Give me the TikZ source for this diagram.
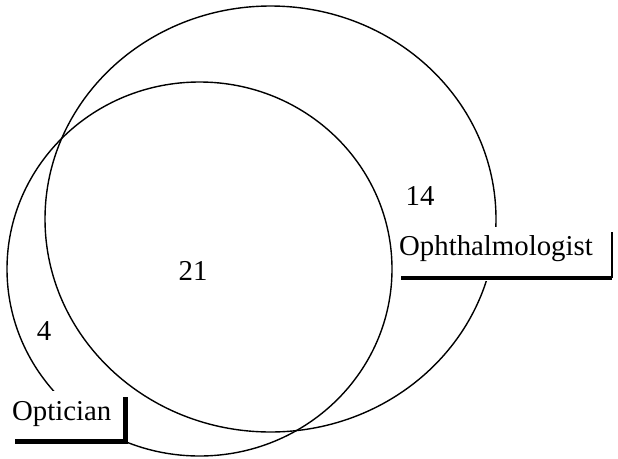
\documentclass[tikz,border=0pt]{standalone}
\usepackage{fontspec}
\setmainfont{Liberation Serif}
\begin{document}
\begin{tikzpicture}[x=1pt,y=-1pt,
  setline/.style={line width=1.4pt},
  labeltext/.style={inner sep=0pt,font=\fontsize{28.8}{30}\selectfont},
  countlabel/.style={inner sep=0pt,anchor=base,font=\fontsize{28.8}{30}\selectfont},
  labelcover/.style={fill=white,draw=none},
  thickrule/.style={line width=4.5pt},
  thinrule/.style={line width=1.5pt}]
\useasboundingbox (0,0) rectangle (618,458);

% the two sets
\draw[setline] (270.5,219) ellipse [x radius=225.5, y radius=213];
\draw[setline] (199.5,269) ellipse [x radius=192.5, y radius=187];

% region counts
\node[countlabel] (n14) at (420,205) {14};
\node[countlabel] (n21) at (193,280) {21};
\node[countlabel] (n4)  at (44,340) {4};

% label "Ophthalmologist" with its shadow edges
\fill[labelcover] (400,227) rectangle (614,281);
\node[labeltext,anchor=base west] (oph) at (399,255) {Ophthalmologist};
\coordinate (ophBL) at (401,278);
\coordinate (ophBR) at (612,278);
\coordinate (ophTR) at (612,232);
\draw[thickrule] (ophBL) -- (ophBR);
\draw[thinrule] (ophBR) -- (ophTR);

% label "Optician" with its shadow edges
\fill[labelcover] (8,391) rectangle (128,444);
\node[labeltext,anchor=base west] (opt) at (12,420) {Optician};
\coordinate (optBL) at (15,441.5);
\coordinate (optBR) at (127.5,441.5);
\coordinate (optTR) at (125.5,397);
\draw[thickrule] (optBL) -- (optBR);
\draw[thickrule] (optTR) -- (125.5,443.7);
\end{tikzpicture}
\end{document}
